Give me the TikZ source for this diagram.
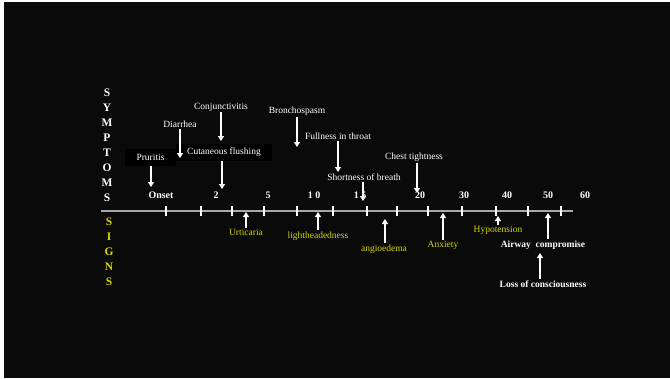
\documentclass[tikz,border=0pt]{standalone}
\usepackage{fontspec}
\setmainfont{Liberation Serif}
\usetikzlibrary{arrows.meta}
\definecolor{slidebg}{RGB}{10,10,10}
\definecolor{signyellow}{RGB}{215,215,0}
\definecolor{axisgray}{RGB}{168,168,168}
\tikzset{
  symp/.style={text=white,font=\fontsize{9.5}{11}\selectfont,inner sep=1pt},
  sign/.style={text=signyellow,font=\fontsize{9.5}{11}\selectfont,inner sep=1pt},
  signw/.style={text=white,font=\bfseries\fontsize{9.5}{11}\selectfont,inner sep=1pt},
  boxed/.style={fill=black,minimum height=17pt},
  num/.style={text=white,font=\bfseries\fontsize{10}{12}\selectfont,inner sep=1pt},
  letter/.style={font=\bfseries\fontsize{11.5}{13}\selectfont,inner sep=0pt},
  arr/.style={->,white,line width=1.6pt},
  axtick/.style={white,line width=1.6pt}
}
\begin{document}
\begin{tikzpicture}[x=1pt,y=-1pt,>={Triangle[length=5pt,width=6pt]}]
    \fill[white] (0,0) rectangle (670,378);
    \fill[slidebg] (4,2) rectangle (670,378);

    \foreach \ch [count=\i] in {S,Y,M,P,T,O,M,S}
        \node[letter,text=white] (sy\i) at (107,{93+15*(\i-1)}) {\ch};
    \foreach \ch [count=\i] in {S,I,G,N,S}
        \node[letter,text=signyellow] (sg\i) at (109,{222+15*(\i-1)}) {\ch};

    \coordinate (axL) at (101,211);
    \coordinate (axR) at (573,211);
    \draw[axisgray,line width=2pt] (axL)--(axR);
    \foreach \tx in {166,201,232,264,297,333,367,397,428,462,496,528,561}
        \draw[axtick] (\tx,206)--(\tx,216);
    \foreach \tx/\lab in {161/Onset,216/2,268/5,314/1 0,360/1 5,420/20,464/30,507/40,548/50,585/60}
        \node[num] (n\tx) at (\tx,195) {\lab};

    \node[symp,boxed,minimum width=51pt] (prur) at (150.5,157.5) {Pruritis};
    \node[symp,boxed,minimum width=96pt] (cutf) at (224,152.5) {Cutaneous flushing};
    \node[symp] (diar) at (180,124) {Diarrhea};
    \node[symp] (conj) at (221,107) {Conjunctivitis};
    \node[symp] (bron) at (297,111) {Bronchospasm};
    \node[symp] (full) at (338,136) {Fullness in throat};
    \node[symp] (shor) at (364,177) {Shortness of breath};
    \node[symp] (ches) at (414,157) {Chest tightness};

    \coordinate (prurT) at (151,187);
    \coordinate (diarT) at (180,158);
    \coordinate (conjT) at (221,141);
    \coordinate (cutfT) at (222,189);
    \coordinate (bronT) at (297,147);
    \coordinate (fullT) at (338,172);
    \coordinate (shorT) at (363,201);
    \coordinate (chesT) at (417,193);
    \foreach \s in {prur,diar,conj,cutf,bron,full,shor,ches}
        \draw[arr] (\s.south -| \s T)--(\s T);

    \node[sign] (urti) at (246,232) {Urticaria};
    \node[sign] (ligh) at (318,236) {lightheadedness};
    \node[sign] (angi) at (384,249) {angioedema};
    \node[sign] (anxi) at (443,245) {Anxiety};
    \node[sign] (hypo) at (498,230) {Hypotension};
    \node[signw] (airw) at (543,245) {Airway\ \ compromise};
    \node[signw] (loss) at (543,284) {Loss of consciousness};

    \coordinate (urtiT) at (246,212);
    \coordinate (lighT) at (318,212);
    \coordinate (angiT) at (385,219);
    \coordinate (anxiT) at (443,213);
    \coordinate (hypoT) at (498,216);
    \coordinate (airwT) at (548,213);
    \coordinate (lossT) at (540,253);
    \foreach \s in {urti,ligh,angi,anxi,hypo,airw,loss}
        \draw[arr] (\s.north -| \s T)--(\s T);
\end{tikzpicture}
\end{document}
